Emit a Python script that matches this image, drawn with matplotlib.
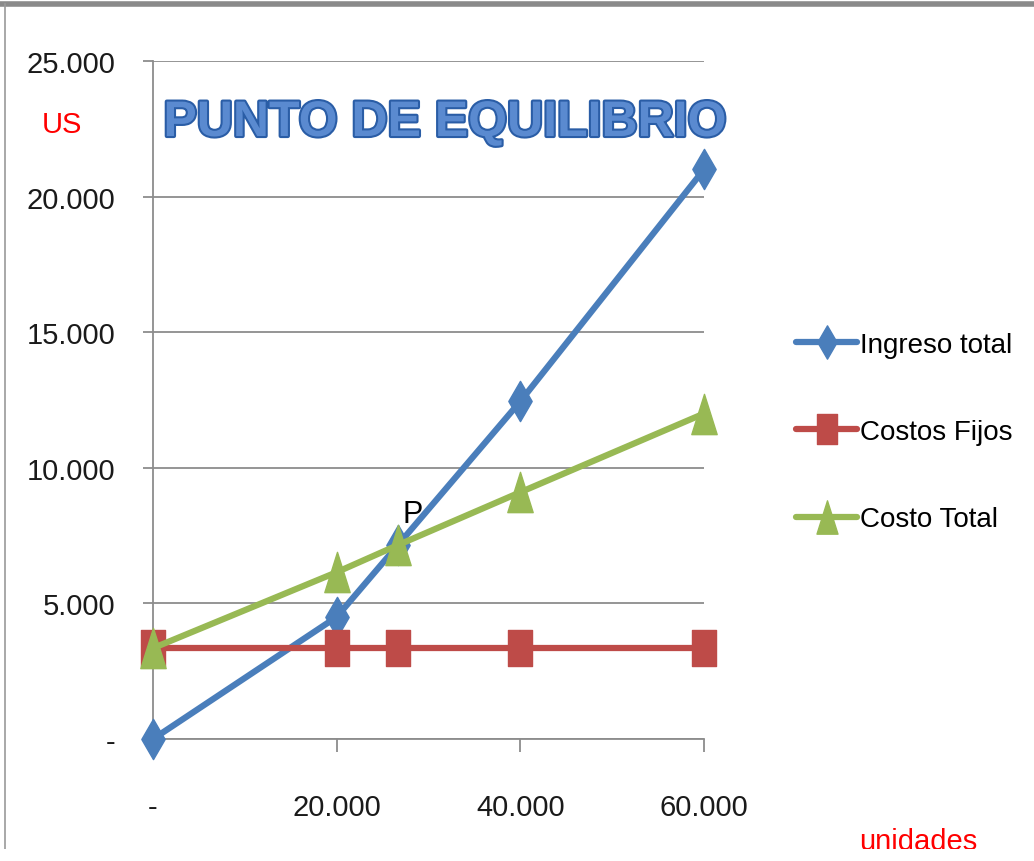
import matplotlib.pyplot as plt
import matplotlib.patheffects as pe
from matplotlib.path import Path
from matplotlib.patches import Rectangle
from matplotlib.lines import Line2D

# datos del grafico
unidades = [0, 20000, 26667, 40000, 60000]
ingreso_total = [0, 4500, 7150, 12450, 21000]
costos_fijos = [3350, 3350, 3350, 3350, 3350]
costo_total = [3350, 6150, 7150, 9100, 12000]
series_names = ["Ingreso total", "Costos Fijos", "Costo Total"]
y_ticks = [0, 5000, 10000, 15000, 20000, 25000]
y_labels = ["-", "5.000", "10.000", "15.000", "20.000", "25.000"]
x_ticks = [0, 20000, 40000, 60000]
x_labels = ["-", "20.000", "40.000", "60.000"]

FONT = ["Liberation Sans", "DejaVu Sans"]
plt.rcParams["font.family"] = FONT

# marcadores estirados (la imagen original esta estirada en vertical)
diamond = Path([(0, -1), (0.58, 0), (0, 1), (-0.58, 0), (0, -1)],
               [Path.MOVETO, Path.LINETO, Path.LINETO, Path.LINETO, Path.CLOSEPOLY])
square = Path([(-0.67, -1), (0.67, -1), (0.67, 1), (-0.67, 1), (-0.67, -1)],
              [Path.MOVETO, Path.LINETO, Path.LINETO, Path.LINETO, Path.CLOSEPOLY])
triangle = Path([(-0.63, -1), (0.63, -1), (0, 1), (-0.63, -1)],
                [Path.MOVETO, Path.LINETO, Path.LINETO, Path.CLOSEPOLY])

blue = "#4a7ebb"
red = "#be4b48"
green = "#98b954"

fig = plt.figure(figsize=(10.34, 8.62), dpi=100)
ax = fig.add_axes([153 / 1034, 122 / 862, 551 / 1034, 678 / 862])

ax.plot(unidades, ingreso_total, color=blue, lw=4.5, marker=diamond, ms=29,
        clip_on=False, zorder=3, solid_capstyle="round")
ax.plot(unidades, costos_fijos, color=red, lw=4.5, marker=square, ms=26,
        clip_on=False, zorder=3)
ax.plot(unidades, costo_total, color=green, lw=4.5, marker=triangle, ms=29,
        clip_on=False, zorder=4)

ax.set_xlim(0, 60000)
ax.set_ylim(0, 25000)
ax.set_yticks(y_ticks)
ax.set_yticklabels(y_labels)
ax.set_xticks(x_ticks)
ax.set_xticklabels(x_labels)
ax.yaxis.grid(True, color="#8c8c8c", lw=1.3)
ax.set_axisbelow(True)
for s in ["top", "right"]:
    ax.spines[s].set_visible(False)
for s in ["left", "bottom"]:
    ax.spines[s].set_color("#8c8c8c")
    ax.spines[s].set_linewidth(1.3)
ax.tick_params(axis="y", length=7, width=1.3, color="#8c8c8c", pad=20,
               labelsize=21, labelcolor="#1a1a1a")
ax.tick_params(axis="x", length=9, width=1.3, color="#8c8c8c", pad=30,
               labelsize=21, labelcolor="#1a1a1a")

ax.text(26667 + 500, 7150 + 600, "P", fontsize=22, color="black",
        ha="left", va="bottom")

# titulo
fig.text(445 / 1034, 1 - 124 / 862, "PUNTO DE EQUILIBRIO", fontsize=36,
         fontweight="bold", color="#5a8ad0", ha="center", va="center",
         path_effects=[pe.withStroke(linewidth=3, foreground="#2a5da6")])

fig.text(62 / 1034, 1 - 125 / 862, "US", fontsize=21, color="red",
         ha="center", va="center")
fig.text(918 / 1034, 1 - 828 / 862, "unidades", fontsize=21, color="red",
         ha="center", va="top")

# leyenda
handles = [
    Line2D([], [], color=blue, lw=4.5, marker=diamond, ms=24, solid_capstyle="round"),
    Line2D([], [], color=red, lw=4.5, marker=square, ms=22, solid_capstyle="round"),
    Line2D([], [], color=green, lw=4.5, marker=triangle, ms=24, solid_capstyle="round"),
]
fig.legend(handles, series_names, loc="upper left",
           bbox_to_anchor=(796 / 1034, 1 - 333 / 862), frameon=False,
           fontsize=20, handlelength=2.2, handletextpad=0.1,
           labelspacing=2.2, borderpad=0, borderaxespad=0)

# marco
fig.patches.append(Rectangle((0, 0), 1, 12 / 862, transform=fig.transFigure,
                             facecolor="white", edgecolor="none", zorder=5))
fig.add_artist(Line2D([0, 1], [1 - 5 / 862, 1 - 5 / 862], color="#8a8a8a",
                      lw=4, transform=fig.transFigure))
fig.add_artist(Line2D([5 / 1034, 5 / 1034], [0, 1 - 5 / 862], color="#9a9a9a",
                      lw=1.2, transform=fig.transFigure))
fig.add_artist(Line2D([0, 1], [3 / 862, 3 / 862], color="#d0d0d0",
                      lw=1.2, transform=fig.transFigure))

fig.savefig("out.png", dpi=100)
